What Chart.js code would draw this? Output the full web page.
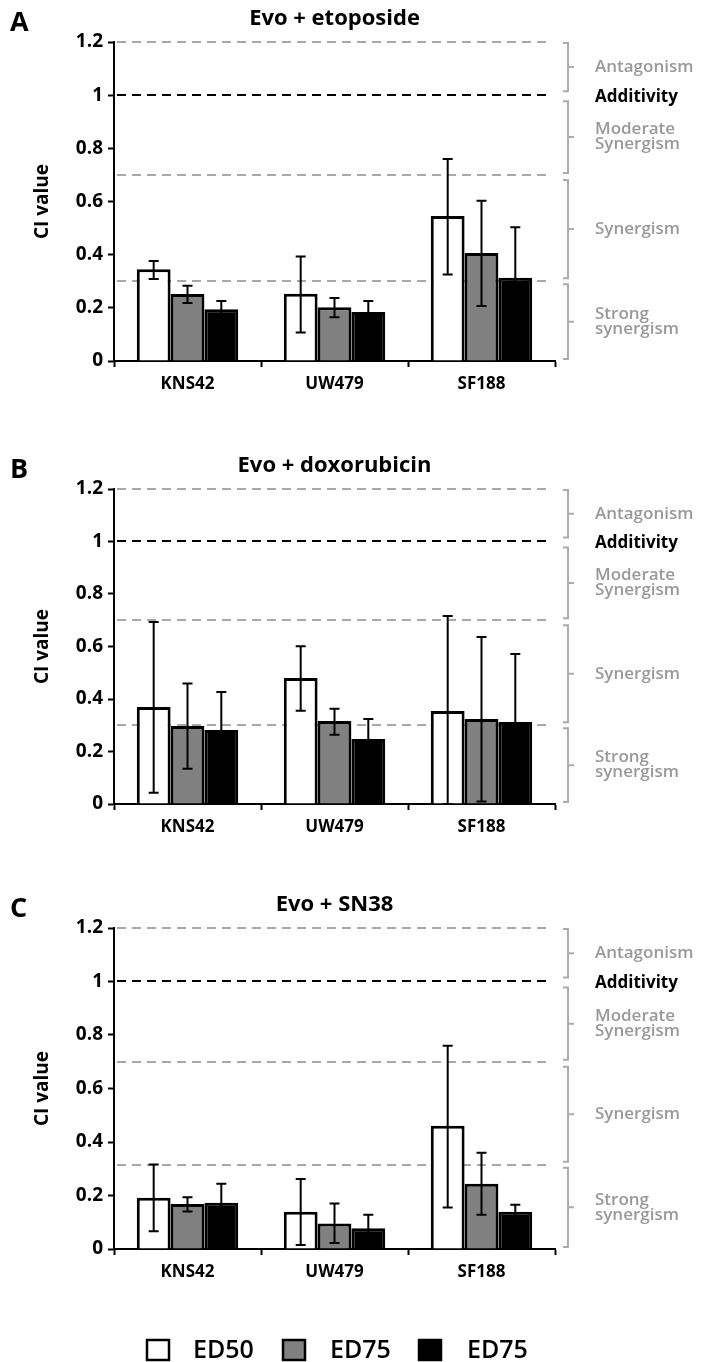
<!DOCTYPE html>
<html>
<head>
<meta charset="utf-8">
<script src="https://cdn.jsdelivr.net/npm/chart.js@4.4.1/dist/chart.umd.min.js"></script>
<style>
  html, body { margin: 0; padding: 0; background: #fff; }
  body { width: 703px; height: 1362px; position: relative; overflow: hidden; }
  canvas { position: absolute; left: 0; }
</style>
</head>
<body>
<canvas id="cA" width="703" height="440" style="top:0px"></canvas>
<canvas id="cB" width="703" height="440" style="top:440px"></canvas>
<canvas id="cC" width="703" height="482" style="top:880px"></canvas>
<script>
// ---------- data ----------
const categories = ['KNS42', 'UW479', 'SF188'];
const seriesLabels = ['ED50', 'ED75', 'ED75'];
const yTickValues = [0, 0.2, 0.4, 0.6, 0.8, 1, 1.2];
const panelTitles = ['Evo + etoposide', 'Evo + doxorubicin', 'Evo + SN38'];
const panelLetters = ['A', 'B', 'C'];
const yAxisTitle = 'CI value';
const zoneNames = [['Antagonism'], ['Moderate', 'Synergism'], ['Synergism'], ['Strong', 'synergism']];
const additivityLabel = 'Additivity';

// Panel A: Evo + etoposide
const A_ed50 = [0.345, 0.253, 0.545];
const A_ed50_lo = [0.308, 0.107, 0.325];
const A_ed50_hi = [0.376, 0.393, 0.760];
const A_ed75g = [0.252, 0.202, 0.406];
const A_ed75g_lo = [0.218, 0.165, 0.207];
const A_ed75g_hi = [0.283, 0.237, 0.603];
const A_ed75k = [0.195, 0.184, 0.313];
const A_ed75k_lo = [0.164, 0.142, 0.123];
const A_ed75k_hi = [0.226, 0.226, 0.503];
const A_thresholds = [1.2, 1.0, 0.7, 0.3];

// Panel B: Evo + doxorubicin
const B_ed50 = [0.370, 0.480, 0.354];
const B_ed50_lo = [0.043, 0.355, 0.0];
const B_ed50_hi = [0.693, 0.601, 0.716];
const B_ed75g = [0.297, 0.316, 0.324];
const B_ed75g_lo = [0.134, 0.264, 0.010];
const B_ed75g_hi = [0.459, 0.363, 0.636];
const B_ed75k = [0.282, 0.248, 0.312];
const B_ed75k_lo = [0.137, 0.170, 0.053];
const B_ed75k_hi = [0.427, 0.324, 0.571];
const B_thresholds = [1.2, 1.0, 0.7, 0.3];

// Panel C: Evo + SN38
const C_ed50 = [0.192, 0.139, 0.461];
const C_ed50_lo = [0.066, 0.015, 0.155];
const C_ed50_hi = [0.316, 0.262, 0.760];
const C_ed75g = [0.168, 0.095, 0.244];
const C_ed75g_lo = [0.140, 0.022, 0.128];
const C_ed75g_hi = [0.193, 0.170, 0.360];
const C_ed75k = [0.173, 0.078, 0.139];
const C_ed75k_lo = [0.102, 0.028, 0.113];
const C_ed75k_hi = [0.244, 0.128, 0.165];
const C_thresholds = [1.2, 1.0, 0.7, 0.315];

// ---------- styles ----------
const FONT = '"Open Sans", "DejaVu Sans", sans-serif';
const barColors = ['#ffffff', '#808080', '#000000'];
const dashGray = '#a8a8a8';
const bracketGray = '#ababab';
const zoneTextGray = '#999999';

const decorPlugin = {
  id: 'decor',
  beforeDatasetsDraw(chart) {
    const o = chart.options.plugins.decor;
    const { ctx, chartArea, scales: { y } } = chart;
    ctx.save();
    ctx.lineWidth = 2;
    ctx.setLineDash([9, 6]);
    o.thresholds.forEach(v => {
      const yy = Math.round(y.getPixelForValue(v));
      ctx.strokeStyle = (v === 1) ? '#000' : dashGray;
      ctx.beginPath();
      ctx.moveTo(chartArea.left + 3, yy);
      ctx.lineTo(chartArea.right - 7, yy);
      ctx.stroke();
    });
    ctx.restore();
  },
  afterDatasetsDraw(chart) {
    const { ctx, scales: { y } } = chart;
    ctx.save();
    ctx.strokeStyle = '#000';
    ctx.lineWidth = 2;
    chart.data.datasets.forEach((ds, di) => {
      const meta = chart.getDatasetMeta(di);
      meta.data.forEach((bar, i) => {
        const x = bar.x;
        const yl = y.getPixelForValue(ds.errLo[i]);
        const yh = y.getPixelForValue(ds.errHi[i]);
        ctx.beginPath();
        ctx.moveTo(x, yl); ctx.lineTo(x, yh);
        ctx.moveTo(x - 5, yh); ctx.lineTo(x + 5, yh);
        ctx.moveTo(x - 5, yl); ctx.lineTo(x + 5, yl);
        ctx.stroke();
      });
    });
    ctx.restore();
  },
  afterDraw(chart) {
    const o = chart.options.plugins.decor;
    const { ctx, chartArea, scales: { y } } = chart;
    ctx.save();
    // panel letter & title
    ctx.fillStyle = '#000';
    ctx.textBaseline = 'middle';
    ctx.textAlign = 'left';
    ctx.font = 'bold 27px ' + FONT;
    ctx.fillText(o.letter, 10, chartArea.top - 19);
    ctx.textAlign = 'center';
    ctx.font = 'bold 22px ' + FONT;
    ctx.fillText(o.title, (chartArea.left + chartArea.right) / 2, chartArea.top - 23);
    // y axis title
    ctx.save();
    ctx.translate(43, (chartArea.top + chartArea.bottom) / 2);
    ctx.rotate(-Math.PI / 2);
    ctx.font = 'bold 19px ' + FONT;
    ctx.fillText(yAxisTitle, 0, 0);
    ctx.restore();
    // brackets
    const t = o.thresholds;
    const zones = [[t[0], t[1], 1, 4], [t[1], t[2], 6, 2], [t[2], t[3], 5, 3], [t[3], 0, 3, 2]];
    const bx = chartArea.right + 13;
    ctx.strokeStyle = bracketGray;
    ctx.lineWidth = 2;
    ctx.font = '600 17px ' + FONT;
    ctx.textAlign = 'left';
    zones.forEach((z, zi) => {
      const y1 = y.getPixelForValue(z[0]) + z[2];
      const y2 = y.getPixelForValue(z[1]) - z[3];
      const ym = (y1 + y2) / 2;
      ctx.beginPath();
      ctx.moveTo(bx - 5, y1); ctx.lineTo(bx, y1); ctx.lineTo(bx, y2); ctx.lineTo(bx - 5, y2);
      ctx.moveTo(bx, ym); ctx.lineTo(bx + 6, ym);
      ctx.stroke();
      const lines = zoneNames[zi];
      ctx.fillStyle = zoneTextGray;
      lines.forEach((s, li) => {
        const off = (li - (lines.length - 1) / 2) * 15;
        ctx.fillText(s, bx + 27, ym + off);
      });
    });
    ctx.fillStyle = '#000';
    ctx.font = 'bold 17px ' + FONT;
    ctx.fillText(additivityLabel, bx + 27, y.getPixelForValue(1) + 2);
    // legend
    if (o.legend) {
      const boxX = [147, 283, 419];
      const txtX = [193, 330, 467];
      const ly = o.legendY;
      ctx.font = '600 25px ' + FONT;
      ctx.textAlign = 'left';
      chart.data.datasets.forEach((ds, i) => {
        ctx.fillStyle = ds.backgroundColor;
        ctx.fillRect(boxX[i], ly - 10, 22, 20);
        ctx.strokeStyle = '#000';
        ctx.lineWidth = 2.5;
        ctx.strokeRect(boxX[i], ly - 10, 22, 20);
        ctx.fillStyle = '#000';
        ctx.fillText(ds.label, txtX[i], ly + 1);
      });
    }
    ctx.restore();
  }
};

function makePanel(id, top, bottom, idx, vals, los, his, thresholds, legend) {
  const canvas = document.getElementById(id);
  const H = canvas.height;
  const datasets = vals.map((v, i) => ({
    label: seriesLabels[i],
    data: v,
    errLo: los[i],
    errHi: his[i],
    backgroundColor: barColors[i],
    borderColor: '#000',
    borderWidth: 3,
    borderSkipped: 'bottom',
    categoryPercentage: 0.69,
    barPercentage: 1.0
  }));
  return new Chart(canvas, {
    type: 'bar',
    data: { labels: categories, datasets },
    options: {
      responsive: false,
      animation: false,
      devicePixelRatio: 1,
      layout: { padding: { left: 0, right: 703 - 555, top: top, bottom: 0 } },
      plugins: {
        legend: { display: false },
        title: { display: false },
        tooltip: { enabled: false },
        decor: { title: panelTitles[idx], letter: panelLetters[idx], thresholds, legend, legendY: 1350 - 880 }
      },
      scales: {
        x: {
          grid: { display: true, drawOnChartArea: false, drawTicks: true, tickLength: 6, tickColor: '#000', tickWidth: 2, offset: true },
          border: { display: true, color: '#000', width: 2 },
          ticks: { color: '#000', font: { family: FONT, weight: 'bold', size: 17 }, padding: 7 },
          afterFit: s => { s.height = H - bottom; }
        },
        y: {
          min: 0, max: 1.2,
          afterBuildTicks: s => { s.ticks = yTickValues.map(v => ({ value: v })); },
          grid: { display: true, drawOnChartArea: false, drawTicks: true, tickLength: 6, tickColor: '#000', tickWidth: 2 },
          border: { display: true, color: '#000', width: 2 },
          ticks: {
            color: '#000', padding: 5,
            font: { family: FONT, weight: 'bold', size: 19 },
            callback: v => String(Math.round(v * 10) / 10)
          },
          afterFit: s => { s.width = 114; }
        }
      }
    },
    plugins: [decorPlugin]
  });
}

makePanel('cA', 42, 361, 0,
  [A_ed50, A_ed75g, A_ed75k], [A_ed50_lo, A_ed75g_lo, A_ed75k_lo], [A_ed50_hi, A_ed75g_hi, A_ed75k_hi],
  A_thresholds, false);
makePanel('cB', 489 - 440, 804 - 440, 1,
  [B_ed50, B_ed75g, B_ed75k], [B_ed50_lo, B_ed75g_lo, B_ed75k_lo], [B_ed50_hi, B_ed75g_hi, B_ed75k_hi],
  B_thresholds, false);
makePanel('cC', 928 - 880, 1249 - 880, 2,
  [C_ed50, C_ed75g, C_ed75k], [C_ed50_lo, C_ed75g_lo, C_ed75k_lo], [C_ed50_hi, C_ed75g_hi, C_ed75k_hi],
  C_thresholds, true);
</script>
</body>
</html>
